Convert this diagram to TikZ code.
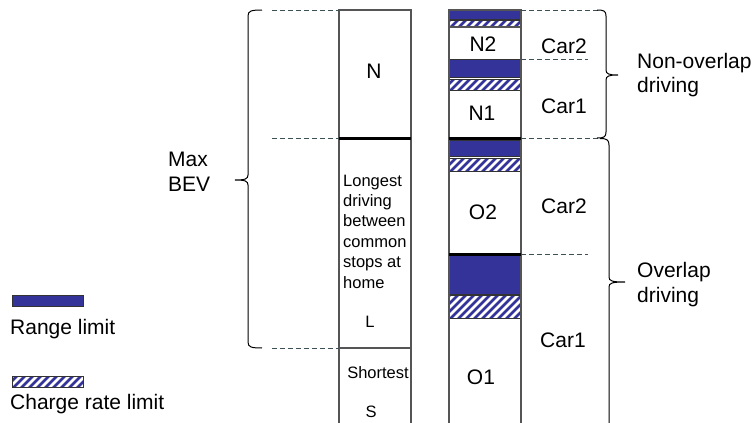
\documentclass[tikz,border=0pt]{standalone}
\usepackage{fontspec}
\setmainfont{Liberation Sans}
\definecolor{rlblue}{RGB}{51,51,153}
\definecolor{edgegray}{RGB}{85,85,85}
\definecolor{dashgray}{RGB}{60,80,85}
\newcommand\hatchrect[4]{%
  \begin{scope}
    \clip (#1,#2) rectangle (#3,#4);
    \fill[white] (#1,#2) rectangle (#3,#4);
    \foreach \k in {-64,-56,...,88}{\draw[rlblue, line width=2.6pt] ({#1+\k},{#4+2}) -- ({#1+\k+40},{#4-38});}
  \end{scope}
  \draw[boxedge] (#1,#2) rectangle (#3,#4);}
\newcommand\bluerect[4]{\fill[rlblue] (#1,#2) rectangle (#3,#4); \draw[boxedge] (#1,#2) rectangle (#3,#4);}
\begin{document}
\begin{tikzpicture}[x=1pt,y=-1pt,
  boxedge/.style={draw=black!80, line width=0.9pt},
  colline/.style={draw=edgegray, line width=1.1pt},
  thickline/.style={draw=black, line width=3pt},
  dashline/.style={draw=dashgray, line width=0.9pt, dash pattern=on 5pt off 3pt},
  bracestyle/.style={draw=black, line width=1pt},
  big/.style={font=\fontsize{21}{24}\selectfont, inner sep=0pt},
  small/.style={font=\fontsize{16.5}{20.4}\selectfont, inner sep=0pt}]
\useasboundingbox (0,0) rectangle (756,423);
% columns
\fill[white] (339,10) rectangle (411,430);
\fill[white] (449,10) rectangle (521,430);
% right column blocks
\bluerect{449}{10}{521}{19}
\hatchrect{449}{20.5}{521}{27}
\bluerect{449}{59}{521}{77}
\hatchrect{449}{79}{521}{90}
\bluerect{449}{140}{521}{156}
\hatchrect{449}{158}{521}{171}
\bluerect{449}{255}{521}{294}
\hatchrect{449}{295.5}{521}{318}
% column outlines
\draw[colline] (339,430) -- (339,10) -- (411,10) -- (411,430);
\draw[colline] (449,430) -- (449,10) -- (521,10) -- (521,430);
\draw[colline] (339,348) -- (411,348);
\draw[colline] (449,27) -- (521,27);
\draw[thickline] (339,138.5) -- (411,138.5);
\draw[thickline] (449,138.5) -- (521,138.5);
\draw[thickline] (449,254) -- (521,254);
% dashed guide lines
\draw[dashline] (272,10) -- (339,10);
\draw[dashline] (272,138) -- (339,138);
\draw[dashline] (272,348) -- (339,348);
\draw[dashline] (521,10) -- (600,10);
\draw[dashline] (521,59) -- (588,59);
\draw[dashline] (521,138) -- (600,138);
\draw[dashline] (521,254) -- (588,254);
% braces
\draw[bracestyle] (262,10) .. controls (251,10) and (248,11) .. (248,16) -- (248,175)
  .. controls (248,179) and (245,180) .. (235,180)
  .. controls (245,180) and (248,181) .. (248,185) -- (248,342)
  .. controls (248,347) and (251,348) .. (262,348);
\draw[bracestyle] (597,10) .. controls (604,10) and (606,11) .. (606,16) -- (606,70)
  .. controls (606,74) and (609,75) .. (618,75)
  .. controls (609,75) and (606,76) .. (606,80) -- (606,132)
  .. controls (606,137) and (604,138) .. (597,138);
\draw[bracestyle] (600,138.5) .. controls (607,138.5) and (609,140) .. (609,145) -- (609,277)
  .. controls (609,281) and (612,282) .. (625,282)
  .. controls (612,282) and (609,283) .. (609,287) -- (609,430);
% legend
\bluerect{12}{295}{83}{306}
\hatchrect{12}{376}{83}{387}
\node[big, anchor=base west] (rl) at (10,334) {Range limit};
\node[big, anchor=base west] (crl) at (10,409) {Charge rate limit};
% labels
\node[big, anchor=north west, align=left] (maxbev) at (168,152) {Max\\[1pt]BEV};
\node[big, anchor=north west, align=left] (nonov) at (637,53) {Non-overlap\\driving};
\node[big, anchor=north west, align=left] (ov) at (637,262) {Overlap\\[1pt]driving};
\node[big, anchor=base] (nlab) at (374,78) {N};
\node[small, anchor=north west, align=left] (longest) at (343,174.5) {Longest\\driving\\between\\common\\stops at\\home};
\node[small, anchor=base] (llab) at (370,327) {L};
\node[small, anchor=base] (short) at (378,378) {Shortest};
\node[small, anchor=base] (slab) at (371,417) {S};
\node[big, anchor=base] (n2) at (483,51) {N2};
\node[big, anchor=base] (n1) at (482,120) {N1};
\node[big, anchor=base] (o2) at (483,219) {O2};
\node[big, anchor=base] (o1) at (481,384) {O1};
\node[big, anchor=base] (c2a) at (564,53) {Car2};
\node[big, anchor=base] (c1a) at (564,113) {Car1};
\node[big, anchor=base] (c2b) at (564,213) {Car2};
\node[big, anchor=base] (c1b) at (563,347) {Car1};
\end{tikzpicture}
\end{document}
